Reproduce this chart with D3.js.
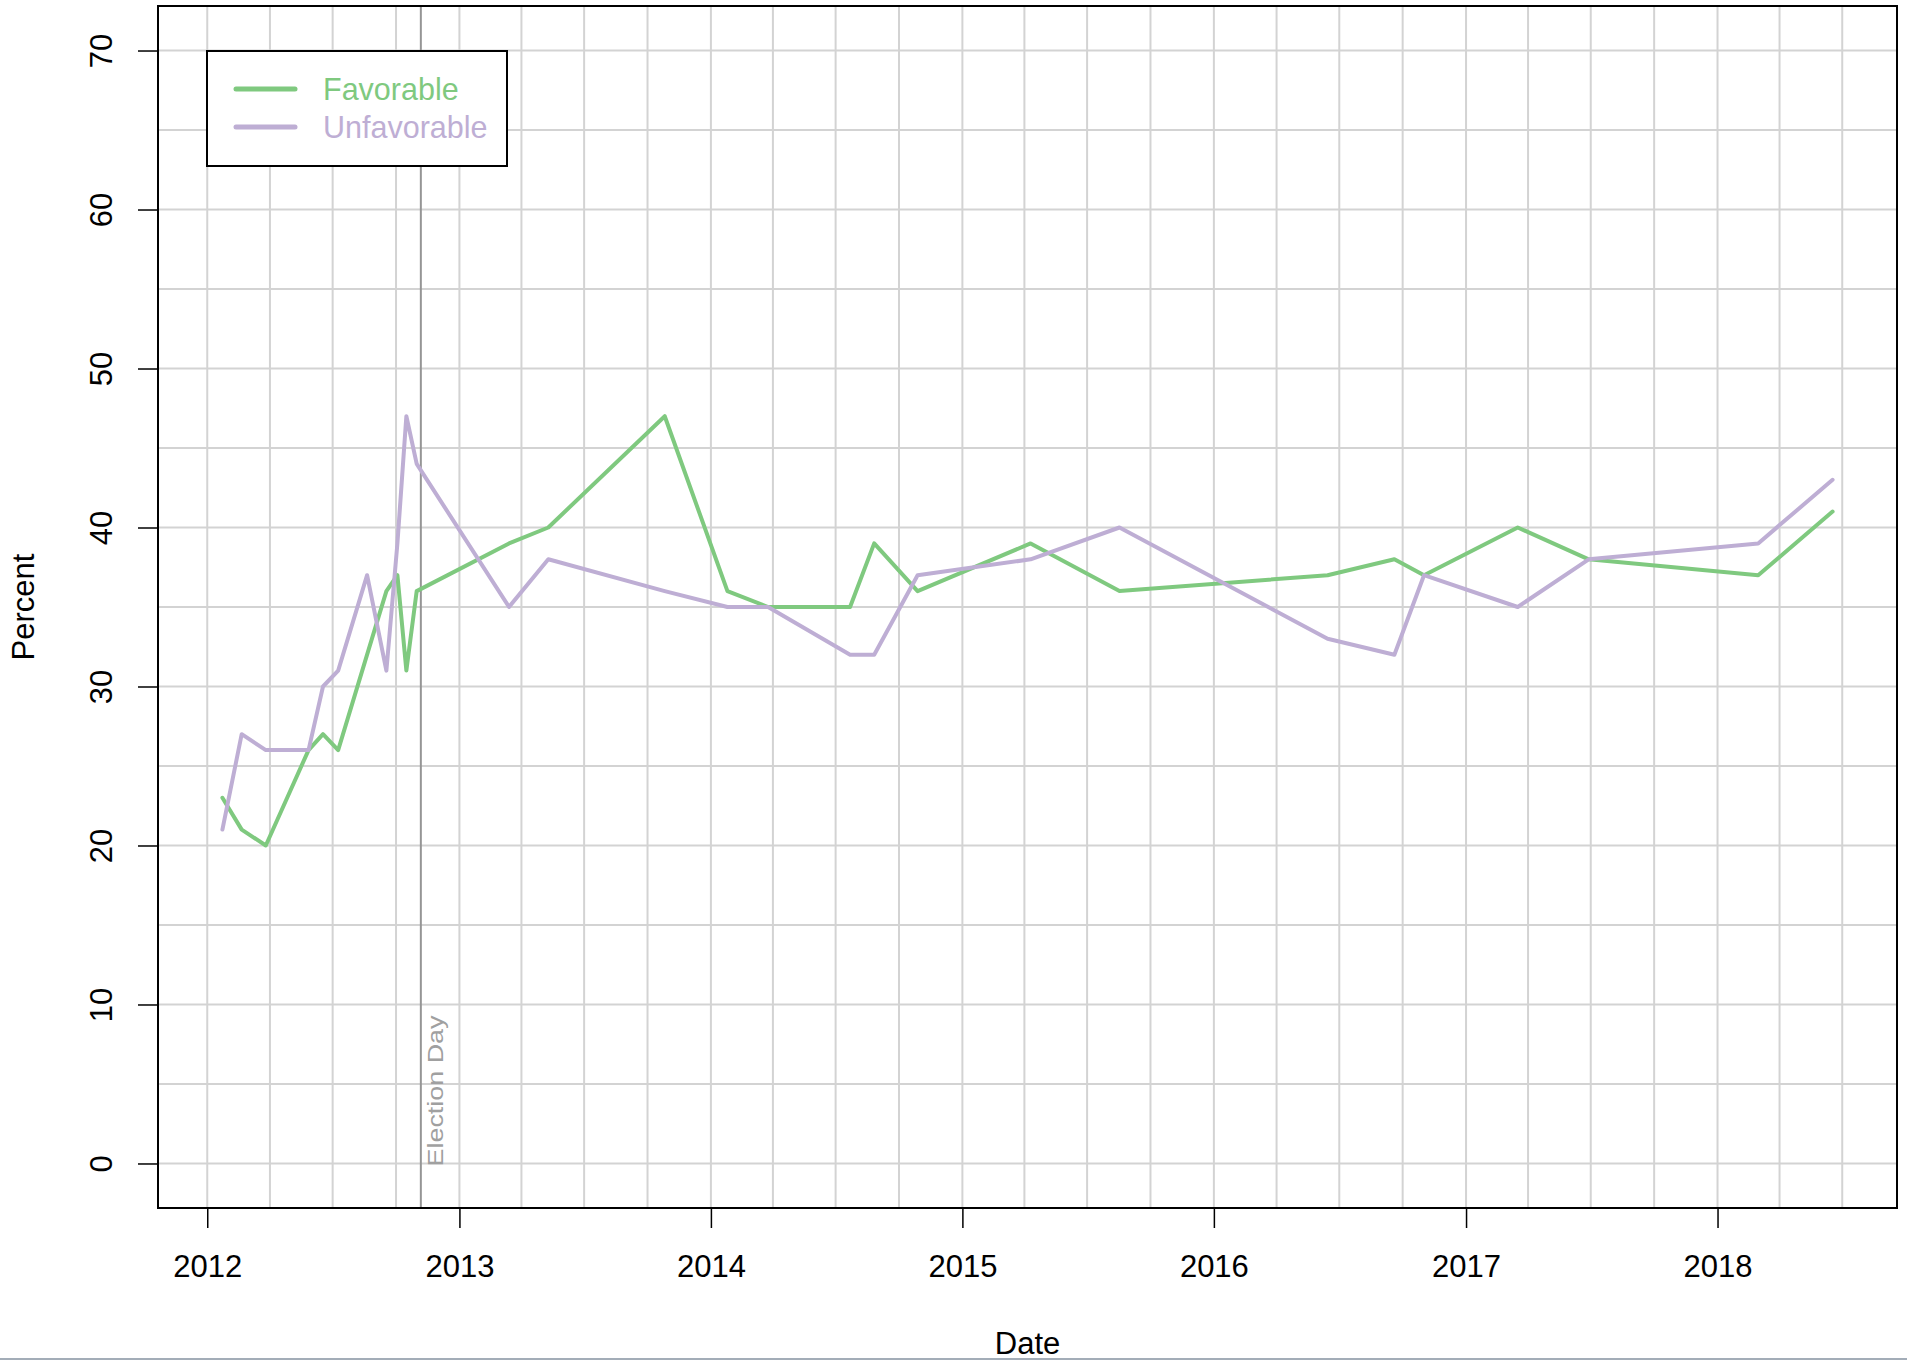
<!DOCTYPE html>
<html>
<head>
<meta charset="utf-8">
<script src="https://cdn.jsdelivr.net/npm/d3@7"></script>
<style>
  html, body { margin: 0; padding: 0; background: #fff; }
  svg { display: block; }
  text { font-family: "Liberation Sans", Arial, Helvetica, sans-serif; }
</style>
</head>
<body>
<script>
// ---- data ----
const pollDates = [
  "2012-01-23","2012-02-20","2012-03-26","2012-05-27","2012-06-17","2012-07-09",
  "2012-08-20","2012-09-17","2012-10-03","2012-10-16","2012-10-31","2013-03-14",
  "2013-05-10","2013-10-26","2014-01-25","2014-03-25","2014-07-22","2014-08-26",
  "2014-10-28","2015-04-10","2015-08-17","2016-06-14","2016-09-19","2016-11-01",
  "2017-03-17","2017-06-28","2018-03-01","2018-06-17"
];
const favorable = [23,21,20,26,27,26,32,36,37,31,36,39,40,47,36,35,35,39,36,39,36,37,38,37,40,38,37,41];
const unfavorable = [21,27,26,26,30,31,37,31,39,47,44,35,38,36,35,35,32,32,37,38,40,33,32,37,35,38,39,43];
const seriesNames = ["Favorable", "Unfavorable"];
const seriesColors = ["#7fc97f", "#beaed4"];
const yTicks = [0,10,20,30,40,50,60,70];
const yGrid = [0,5,10,15,20,25,30,35,40,45,50,55,60,65,70];
const yearTicks = ["2012","2013","2014","2015","2016","2017","2018"];
const electionDay = "2012-11-06";
const electionLabel = "Election Day";

// ---- layout ----
const W = 1907, H = 1360;
const L = 158, R = 1897, T = 6, B = 1208;
const parse = d3.timeParse("%Y-%m-%d");
const dates = pollDates.map(parse);

const svg = d3.select("body").append("svg").attr("width", W).attr("height", H);

// x domain: data extent extended 4% each side (R style)
const ext = d3.extent(dates);
const span = ext[1] - ext[0];
const x = d3.scaleTime()
  .domain([new Date(+ext[0] - 0.04 * span), new Date(+ext[1] + 0.04 * span)])
  .range([L, R]);
const y = d3.scaleLinear().domain([-2.8, 72.8]).range([B, T]);

const fs = 31;

// grid
const gridG = svg.append("g");
const vGrid = d3.timeMonth.every(3).range(x.domain()[0], x.domain()[1]);
gridG.selectAll("line.v").data(vGrid).join("line")
  .attr("x1", d => x(d)).attr("x2", d => x(d)).attr("y1", T).attr("y2", B)
  .attr("stroke", "#d3d3d3").attr("stroke-width", 2);
gridG.selectAll("line.h").data(yGrid).join("line")
  .attr("x1", L).attr("x2", R).attr("y1", d => y(d)).attr("y2", d => y(d))
  .attr("stroke", "#d3d3d3").attr("stroke-width", 2);

// election day line
const ed = parse(electionDay);
svg.append("line").attr("x1", x(ed)).attr("x2", x(ed)).attr("y1", T).attr("y2", B)
  .attr("stroke", "#959595").attr("stroke-width", 2);
svg.append("text")
  .attr("transform", `translate(${x(ed) + 22},${y(0) + 3}) rotate(-90)`)
  .attr("font-size", 22).attr("fill", "#a0a0a0")
  .attr("textLength", 151).attr("lengthAdjust", "spacingAndGlyphs")
  .text(electionLabel);

// lines
const seriesData = [favorable, unfavorable];
seriesData.forEach((vals, i) => {
  const pts = dates.map((d, j) => [d, vals[j]]);
  svg.append("path").datum(pts)
    .attr("fill", "none").attr("stroke", seriesColors[i]).attr("stroke-width", 4)
    .attr("stroke-linejoin", "round").attr("stroke-linecap", "round")
    .attr("d", d3.line().x(p => x(p[0])).y(p => y(p[1])));
});

// frame
svg.append("rect").attr("x", L).attr("y", T).attr("width", R - L).attr("height", B - T)
  .attr("fill", "none").attr("stroke", "#000").attr("stroke-width", 2);

// x axis
const xAxis = d3.axisBottom(x)
  .tickValues(yearTicks.map(v => parse(v + "-01-01")))
  .tickFormat(d3.timeFormat("%Y")).tickSize(20).tickPadding(27);
const gx = svg.append("g").attr("transform", `translate(0,${B})`).call(xAxis);
gx.select(".domain").remove();
gx.selectAll(".tick line").attr("stroke", "#000").attr("stroke-width", 1.5);
gx.selectAll(".tick text").attr("font-size", fs).attr("fill", "#000")
  .attr("font-family", "Liberation Sans, Arial, sans-serif");

// y axis
const yAxis = d3.axisLeft(y).tickValues(yTicks).tickSize(20);
const gy = svg.append("g").attr("transform", `translate(${L},0)`).call(yAxis);
gy.select(".domain").remove();
gy.selectAll(".tick line").attr("stroke", "#000").attr("stroke-width", 1.5);
gy.selectAll(".tick text")
  .attr("font-size", fs).attr("fill", "#000")
  .attr("font-family", "Liberation Sans, Arial, sans-serif")
  .attr("text-anchor", "middle")
  .attr("x", 0).attr("y", -46).attr("dy", 0)
  .attr("transform", "rotate(-90)");

// axis titles
svg.append("text").attr("x", (L + R) / 2).attr("y", 1354)
  .attr("text-anchor", "middle").attr("font-size", fs).text("Date");
svg.append("text").attr("transform", `translate(34,${(T + B) / 2}) rotate(-90)`)
  .attr("text-anchor", "middle").attr("font-size", fs).text("Percent");

// legend
const lg = svg.append("g");
lg.append("rect").attr("x", 207).attr("y", 51).attr("width", 300).attr("height", 115)
  .attr("fill", "#fff").attr("stroke", "#000").attr("stroke-width", 2);
seriesNames.forEach((n, i) => {
  const yy = 89 + i * 38;
  lg.append("line").attr("x1", 236).attr("x2", 295).attr("y1", yy).attr("y2", yy)
    .attr("stroke", seriesColors[i]).attr("stroke-width", 5).attr("stroke-linecap", "round");
  lg.append("text").attr("x", 323).attr("y", yy + 11).attr("font-size", 30.5)
    .attr("fill", seriesColors[i]).text(n);
});

// bottom border strip
svg.append("rect").attr("x", 0).attr("y", 1358).attr("width", W).attr("height", 2)
  .attr("fill", "#a3adb8");
</script>
</body>
</html>
